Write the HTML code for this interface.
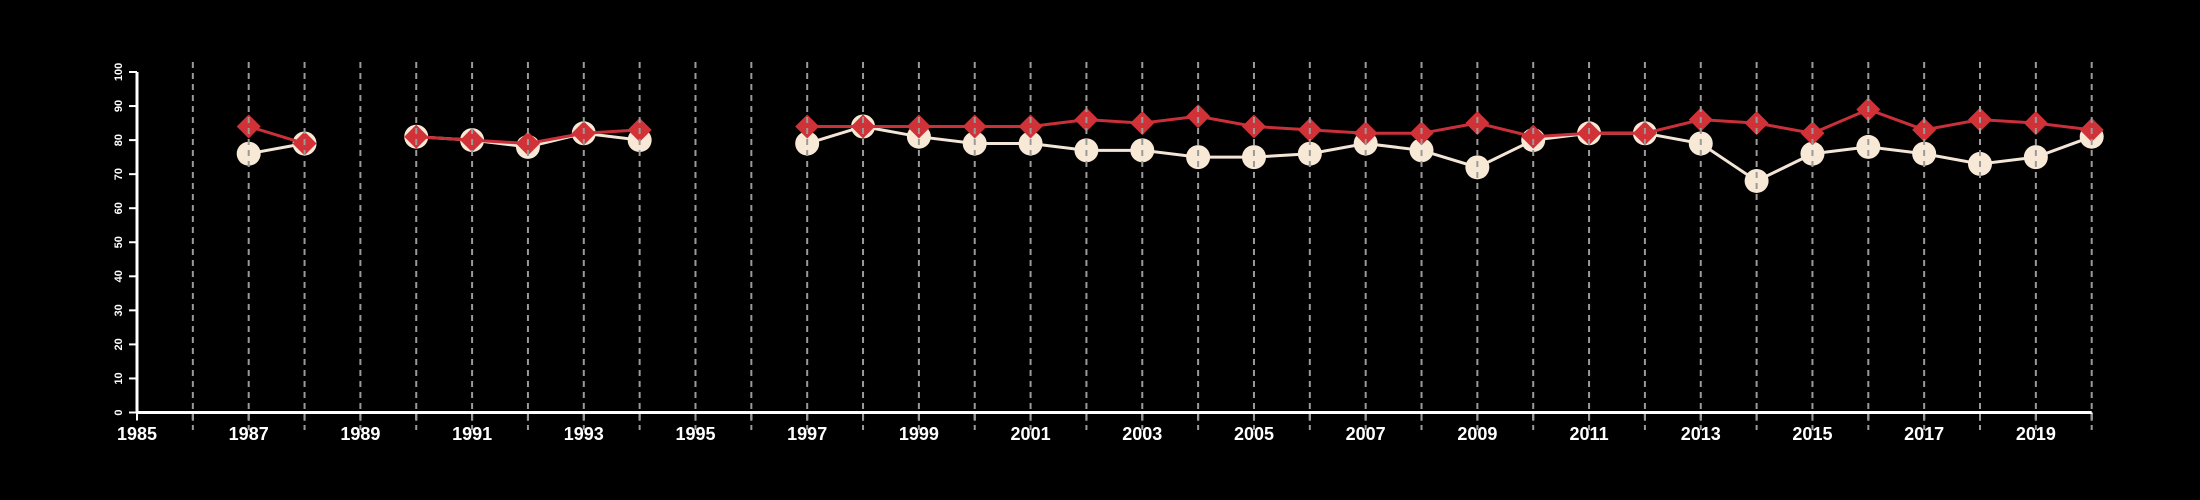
<!DOCTYPE html>
<html><head><meta charset="utf-8"><style>
html,body{margin:0;padding:0;background:#000;}
svg{display:block;font-family:"Liberation Sans",sans-serif;}
</style></head><body>
<svg id="chart" width="2200" height="500" viewBox="0 0 2200 500"></svg>
<script>
const years = [];
for (let y = 1985; y <= 2020; y++) years.push(y);
const whiteSeries = {1987:76,1988:79,1990:81,1991:80,1992:78,1993:82,1994:80,1997:79,1998:84,1999:81,2000:79,2001:79,2002:77,2003:77,2004:75,2005:75,2006:76,2007:79,2008:77,2009:72,2010:80,2011:82,2012:82,2013:79,2014:68,2015:76,2016:78,2017:76,2018:73,2019:75,2020:81};
const redSeries = {1987:84,1988:79,1990:81,1991:80,1992:79,1993:82,1994:83,1997:84,1998:84,1999:84,2000:84,2001:84,2002:86,2003:85,2004:87,2005:84,2006:83,2007:82,2008:82,2009:85,2010:81,2011:82,2012:82,2013:86,2014:85,2015:82,2016:89,2017:83,2018:86,2019:85,2020:83};
const yTicks = [0,10,20,30,40,50,60,70,80,90,100];
const xLabels = [1985,1987,1989,1991,1993,1995,1997,1999,2001,2003,2005,2007,2009,2011,2013,2015,2017,2019];

const svg = document.getElementById('chart');
const NS = 'http://www.w3.org/2000/svg';
const X0 = 137, X1 = 2091.7, Y0 = 412.5, Y1 = 72;
const xs = y => X0 + (y - 1985) / 35 * (X1 - X0);
const ys = v => Y0 - v / 100 * (Y0 - Y1);
function mk(tag, attrs, parent) {
  const e = document.createElementNS(NS, tag);
  for (const k in attrs) e.setAttribute(k, attrs[k]);
  (parent || svg).appendChild(e);
  return e;
}
// axes
const axes = mk('g', {});


mk('line', {x1:X0, y1:Y0, x2:X1, y2:Y0, stroke:'#fff', 'stroke-width':3}, axes);
mk('line', {x1:X0, y1:Y0, x2:X0, y2:ys(100), stroke:'#fff', 'stroke-width':3}, axes);
yTicks.forEach(t => {
  mk('line', {x1:X0-8, y1:ys(t), x2:X0, y2:ys(t), stroke:'#fff', 'stroke-width':2}, axes);
  const tx = mk('text', {x:0, y:0, fill:'#fff', 'font-size':11, 'font-weight':'bold', 'text-anchor':'middle',
    transform:`translate(${X0-15},${ys(t)}) rotate(-90)`}, axes);
  
  
  tx.textContent = t;
});
years.forEach(y => {
  mk('line', {x1:xs(y), y1:Y0, x2:xs(y), y2:Y0+8, stroke:'#fff', 'stroke-width':2}, axes);
});
xLabels.forEach(y => {
  const tx = mk('text', {x:xs(y), y:440, fill:'#fff', 'font-size':18, 'font-weight':'bold', 'text-anchor':'middle'}, axes);
  
  
  tx.textContent = y;
});
function drawSeries(data, color, lineColor, shape, name) {
  const g = mk('g', {});
  
  
  let seg = [];
  const segs = [];
  years.forEach(y => {
    if (data[y] !== undefined) seg.push([xs(y), ys(data[y])]);
    else { if (seg.length) segs.push(seg); seg = []; }
  });
  if (seg.length) segs.push(seg);
  segs.forEach(s => {
    const p = mk('polyline', {points:s.map(q=>q.join(',')).join(' '), fill:'none', stroke:lineColor, 'stroke-width':3}, g);
    
    
  });
  years.forEach(y => {
    if (data[y] === undefined) return;
    const cx = xs(y), cy = ys(data[y]);
    let m;
    if (shape === 'circle') m = mk('circle', {cx, cy, r:12, fill:color}, g);
    else m = mk('polygon', {points:`${cx},${cy-12} ${cx+12},${cy} ${cx},${cy+12} ${cx-12},${cy}`, fill:color}, g);
    
    
  });
}
drawSeries(whiteSeries, '#f8e9d6', '#f3e6d6', 'circle', 'white-series');
drawSeries(redSeries, '#d03238', '#c9303a', 'diamond', 'red-series');
// grid on top
const grid = mk('g', {});


years.slice(1).forEach(y => {
  mk('line', {x1:xs(y), y1:62, x2:xs(y), y2:430, stroke:'#9a9a9a', 'stroke-width':2, 'stroke-dasharray':'6,5'}, grid);
});
</script>
</body></html>
